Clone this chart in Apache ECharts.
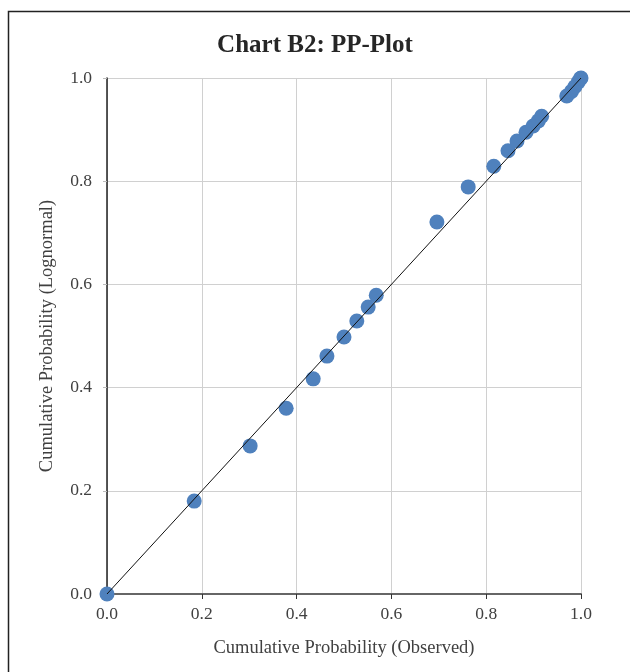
<!DOCTYPE html>
<html>
<head>
<meta charset="utf-8">
<script src="https://cdn.jsdelivr.net/npm/echarts@6/dist/echarts.min.js"></script>
<style>html,body{margin:0;padding:0;background:#fff;}#c{width:630px;height:672px;}</style>
</head>
<body>
<div id="c"></div>
<script>
const observed = [0, 0.184, 0.302, 0.378, 0.435, 0.464, 0.500, 0.527, 0.551, 0.568, 0.696, 0.762, 0.816, 0.846, 0.865, 0.884, 0.899, 0.910, 0.917, 0.970, 0.980, 0.987, 0.994, 0.999, 1.0];
const lognormal = [0, 0.180, 0.287, 0.360, 0.417, 0.461, 0.498, 0.529, 0.556, 0.579, 0.721, 0.789, 0.829, 0.859, 0.878, 0.895, 0.907, 0.917, 0.926, 0.965, 0.974, 0.983, 0.992, 0.999, 1.0];
const refLine = [[0, 0], [1, 1]];
const tickLabels = ['0.0', '0.2', '0.4', '0.6', '0.8', '1.0'];

const font = '"Liberation Serif", "DejaVu Serif", serif';
const chart = echarts.init(document.getElementById('c'), null, {renderer: 'canvas'});
chart.setOption({
  backgroundColor: '#fff',
  animation: false,
  title: {
    text: 'Chart B2: PP-Plot',
    left: 'center', top: 28,
    textStyle: {fontFamily: font, fontWeight: 'bold', fontSize: 25, color: '#262626'}
  },
  graphic: [{
    type: 'rect', shape: {x: 8.5, y: 11.5, width: 640, height: 700},
    style: {fill: 'none', stroke: '#222', lineWidth: 1.5}, silent: true
  }],
  grid: {left: 107, right: 49, top: 78, bottom: 78},
  xAxis: {
    type: 'value', min: 0, max: 1, interval: 0.2,
    name: 'Cumulative Probability (Observed)', nameLocation: 'middle', nameGap: 45,
    nameTextStyle: {fontFamily: font, fontSize: 18.5, color: '#404040'},
    axisLine: {show: true, onZero: false, lineStyle: {color: '#666', width: 2}},
    axisTick: {show: true, length: 5, lineStyle: {color: '#333'}},
    axisLabel: {fontFamily: font, fontSize: 17.5, color: '#404040', margin: 11,
      formatter: v => tickLabels[Math.round(v * 5)]},
    splitLine: {show: true, lineStyle: {color: '#d0d0d0', width: 1}}
  },
  yAxis: {
    type: 'value', min: 0, max: 1, interval: 0.2,
    name: 'Cumulative Probability (Lognormal)', nameLocation: 'middle', nameGap: 50,
    nameTextStyle: {fontFamily: font, fontSize: 18.5, color: '#404040'},
    axisLine: {show: true, onZero: false, lineStyle: {color: '#222', width: 1.5}},
    axisTick: {show: true, length: 4, inside: false, lineStyle: {color: '#bbb'}},
    axisLabel: {fontFamily: font, fontSize: 17.5, color: '#404040', margin: 15,
      formatter: v => tickLabels[Math.round(v * 5)]},
    splitLine: {show: true, lineStyle: {color: '#d0d0d0', width: 1}}
  },
  series: [{
    type: 'scatter',
    data: observed.map((x, i) => [x, lognormal[i]]),
    symbolSize: 15,
    itemStyle: {color: '#4F81BD', opacity: 1},
    z: 3
  }, {
    type: 'line',
    data: refLine,
    symbol: 'none',
    lineStyle: {color: '#111', width: 1},
    z: 4
  }]
});
</script>
</body>
</html>
